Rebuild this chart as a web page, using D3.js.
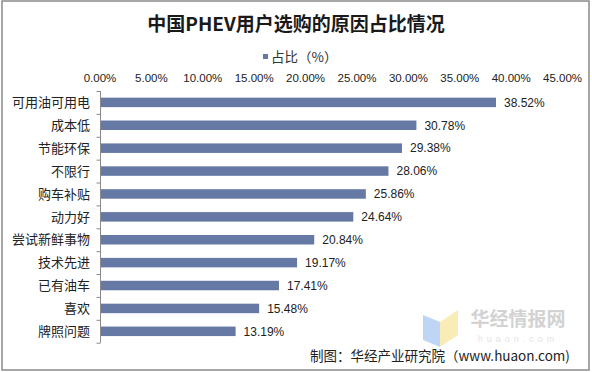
<!DOCTYPE html>
<meta charset="utf-8">
<style>
	body { margin: 0; background: #fff; }
	text { font-family: "Liberation Sans", Arial, "Noto Sans CJK SC", sans-serif; }
	.cjk { font-family: "Noto Sans CJK SC", sans-serif; }
</style>
<body>
<script src="https://cdn.jsdelivr.net/npm/d3@7/dist/d3.min.js"></script>
<script>

// Data
var reasons = ["可用油可用电", "成本低", "节能环保", "不限行", "购车补贴", "动力好",
	"尝试新鲜事物", "技术先进", "已有油车", "喜欢", "牌照问题"];
var shares = [38.52, 30.78, 29.38, 28.06, 25.86, 24.64, 20.84, 19.17, 17.41, 15.48, 13.19];
var xTicks = [0, 5, 10, 15, 20, 25, 30, 35, 40, 45];

var W = 592, H = 372;
var barColor = "#6678a4";

var svg = d3.select("body").append("svg")
	.attr("width", W)
	.attr("height", H);

// outer frame
svg.append("rect")
	.attr("x", 2).attr("y", 1)
	.attr("width", 587).attr("height", 369)
	.attr("fill", "#fff")
	.attr("stroke", "#8a8a8a")
	.attr("stroke-width", 1.5);

var x = d3.scaleLinear().domain([0, 45]).range([100, 562.6]);
var y = d3.scaleBand().domain(reasons).range([91, 342.7]).paddingInner(0.585).paddingOuter(0.29);

// Title
svg.append("text")
	.attr("class", "cjk")
	.attr("x", 296).attr("y", 31)
	.attr("text-anchor", "middle")
	.style("font-size", "19px")
	.style("font-weight", "bold")
	.attr("fill", "#1a1a1a")
	.text("中国PHEV用户选购的原因占比情况");

// Legend
svg.append("rect")
	.attr("x", 263).attr("y", 54)
	.attr("width", 5).attr("height", 5)
	.attr("fill", barColor);
svg.append("text")
	.attr("class", "cjk")
	.attr("x", 271).attr("y", 62)
	.style("font-size", "13.5px")
	.attr("fill", "#333")
	.text("占比（%）");

// Top axis labels (no line)
svg.selectAll(".xlab")
	.data(xTicks)
	.enter().append("text")
	.attr("class", "xlab")
	.attr("x", function(d) { return x(d); })
	.attr("y", 82)
	.attr("text-anchor", "middle")
	.style("font-size", "11.5px")
	.attr("fill", "#222")
	.text(function(d) { return d3.format(".2f")(d) + "%"; });

// Category axis
var yAxis = d3.axisLeft(d3.scalePoint().domain(d3.range(reasons.length + 1)).range([91, 342.7]))
	.tickSize(4).tickFormat("");
var ga = svg.append("g")
	.attr("transform", "translate(100.5,0)")
	.call(yAxis);
ga.select(".domain").attr("stroke", "#8a8a8a").attr("d", "M0,91V342.7");
ga.selectAll(".tick line").attr("stroke", "#8a8a8a");

svg.selectAll(".cat")
	.data(reasons)
	.enter().append("text")
	.attr("class", "cat cjk")
	.attr("x", 90)
	.attr("y", function(d) { return y(d) + y.bandwidth() / 2; })
	.attr("dy", "0.36em")
	.attr("text-anchor", "end")
	.style("font-size", "13px")
	.attr("fill", "#222")
	.text(function(d) { return d; });

// Bars
svg.selectAll(".bar")
	.data(shares)
	.enter().append("rect")
	.attr("class", "bar")
	.attr("x", x(0) + 1)
	.attr("y", function(d, i) { return y(reasons[i]); })
	.attr("width", function(d) { return x(d) - x(0) - 1; })
	.attr("height", y.bandwidth())
	.attr("fill", barColor);

// Value labels
svg.selectAll(".val")
	.data(shares)
	.enter().append("text")
	.attr("class", "val")
	.attr("x", function(d) { return x(d) + 8; })
	.attr("y", function(d, i) { return y(reasons[i]) + y.bandwidth() / 2; })
	.attr("dy", "0.36em")
	.style("font-size", "12px")
	.attr("fill", "#222")
	.text(function(d) { return d3.format(".2f")(d) + "%"; });

// Watermark
var wm = svg.append("g").attr("opacity", 0.75);
wm.append("path")
	.attr("d", "M423,315 L440,322 L440,347 L423,340 Z")
	.attr("fill", "#a9c8f2");
wm.append("path")
	.attr("d", "M440,322 L458,310 L458,335 L440,347 Z")
	.attr("fill", "#f8e6a0");
wm.append("text")
	.attr("class", "cjk")
	.attr("x", 518).attr("y", 326)
	.attr("text-anchor", "middle")
	.style("font-size", "19px")
	.style("font-weight", "bold")
	.attr("fill", "#c4c4c4")
	.text("华经情报网");
wm.append("text")
	.attr("x", 518).attr("y", 342)
	.attr("text-anchor", "middle")
	.style("font-size", "9px")
	.style("letter-spacing", "4px")
	.attr("fill", "#dadada")
	.text("huaon.com");

// Source note
svg.append("text")
	.attr("class", "cjk")
	.attr("x", 310).attr("y", 361)
	.style("font-size", "13.5px")
	.attr("fill", "#222")
	.text("制图：华经产业研究院（www.huaon.com)");

</script>
</body>
